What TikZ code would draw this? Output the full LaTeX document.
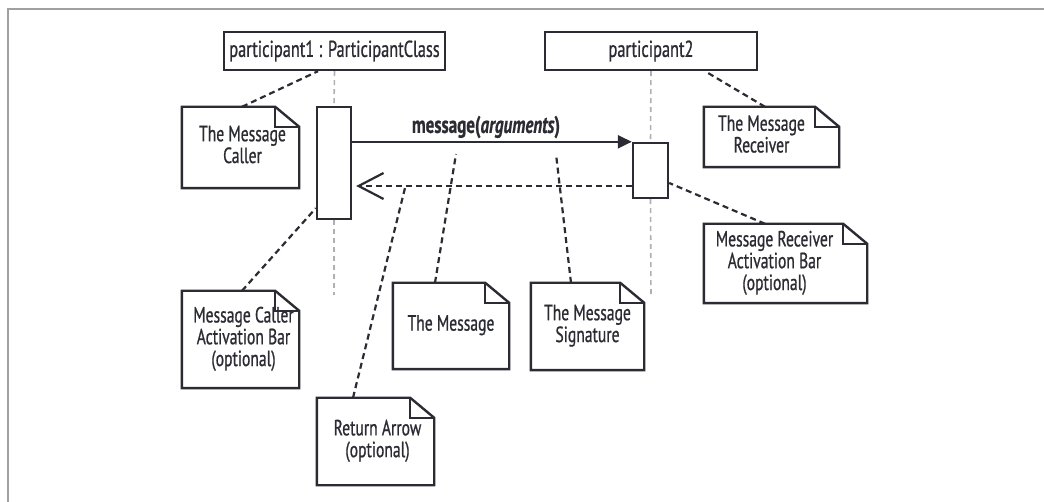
\documentclass[tikz,border=0pt]{standalone}
\usepackage{fontspec}
\setmainfont[FakeStretch=0.71,FakeBold=0.8]{PT Sans}
\usetikzlibrary{arrows.meta}
\definecolor{ink}{HTML}{2B2B33}
\definecolor{frame}{HTML}{A0A0A0}
\definecolor{life}{HTML}{B0B0B0}
\newcommand\notetext[3]{\raisebox{-#2}{\kern#1\begin{tabular}{@{}c@{}}#3\end{tabular}\kern-#1}}
\newcommand\drawnote[1]{%
  \draw[boxline] (#1.south west) -- (#1.north west) -- ([xshift=-24pt]#1.north east)
    -- ([yshift=-20pt]#1.north east) -- (#1.south east) -- cycle;
  \draw[boxline] ([xshift=-24pt]#1.north east) |- ([yshift=-20pt]#1.north east);}
\tikzset{
  boxline/.style={draw=ink, line width=2.4pt, line join=miter},
  partbox/.style={boxline, fill=white, minimum height=38pt, inner sep=0pt, text=ink,
    font=\fontsize{23}{23}\selectfont},
  barbox/.style={boxline, fill=white, inner sep=0pt},
  notebox/.style={inner sep=0pt, text=ink, align=center,
    font=\fontsize{22}{20.5}\selectfont},
  lifeline/.style={draw=life, line width=1.6pt, dash pattern=on 5pt off 4pt},
  connector/.style={draw=ink, line width=2.2pt, dash pattern=on 6pt off 4pt},
}
\begin{document}
\begin{tikzpicture}[x=1pt, y=-1pt]
\useasboundingbox (0,0) rectangle (1044,502);
% frame
\draw[frame, line width=2pt] (8,502) -- (8,9) -- (1044,9);
% participants
\node[partbox, minimum width=221pt] (p1) at (334.5,51) {participant1 : ParticipantClass};
\node[partbox, minimum width=212pt] (p2) at (651,51) {participant2};
% activation bars
\node[barbox, minimum width=34pt, minimum height=112pt] (bar1) at (334,163) {};
\node[barbox, minimum width=35pt, minimum height=55pt] (bar2) at (650.5,170.5) {};
\coordinate (l1end) at (334,295);
\coordinate (l2end) at (651,297);
\draw[lifeline] (p1.south) -- (bar1.north);
\draw[lifeline] (bar1.south) -- (l1end);
\draw[lifeline] (p2.south) -- (bar2.north);
\draw[lifeline] (bar2.south) -- (l2end);
% message
\draw[draw=ink, line width=2.2pt, -{Triangle[length=14pt,width=13pt]}]
  (bar1.east |- bar2.north west) -- (bar2.north west);
\node[text=ink, font=\fontsize{24}{24}\selectfont\bfseries, inner sep=0pt] (msg) at (486,127)
  {message(\textit{arguments})};
% return
\coordinate (r2) at (bar2.west |- 0,186);
\coordinate (r1) at (bar1.east |- 0,186);
\draw[draw=ink, line width=2.2pt, dash pattern=on 6pt off 4pt,
  -{Straight Barb[length=25pt,width=26pt,line width=2.2pt]}] (r2) -- ([xshift=4pt]r1);
% notes
\node[notebox, minimum width=117pt, minimum height=81pt] (n1) at (240.5,147.5) {\notetext{2pt}{6pt}{The Message\\Caller}};
\node[notebox, minimum width=135pt, minimum height=60pt] (n2) at (771.5,137) {\notetext{-10pt}{0pt}{The Message\\Receiver}};
\node[notebox, minimum width=163pt, minimum height=79pt] (n3) at (785.5,263.5) {\notetext{-11pt}{0pt}{Message Receiver\\Activation Bar\\(optional)}};
\node[notebox, minimum width=117pt, minimum height=97pt] (n4) at (240.5,339.5) {\notetext{3pt}{9pt}{Message Caller\\Activation Bar\\(optional)}};
\node[notebox, minimum width=116pt, minimum height=86pt] (n5) at (451,326) {\notetext{0pt}{6pt}{The Message}};
\node[notebox, minimum width=113pt, minimum height=87pt] (n6) at (587.5,326.5) {\notetext{0pt}{5pt}{The Message\\Signature}};
\node[notebox, minimum width=117pt, minimum height=87pt] (n7) at (375.5,441.5) {\notetext{2pt}{6pt}{Return Arrow\\(optional)}};
\foreach \n in {n1,n2,n3,n4,n5,n6,n7} {\drawnote{\n}}
% connector end points
\coordinate (m1) at (456,154);
\coordinate (m2) at (556,154);
\coordinate (rp) at (405,188);
% connectors
\draw[connector] ([xshift=1.5pt]n1.north) -- ([xshift=-16.5pt]p1.south);
\draw[connector] ([xshift=-6.5pt]n2.north) -- ([xshift=54pt]p2.south);
\draw[connector] ([xshift=-20.5pt]n3.north) -- ([yshift=-12.5pt]bar2.east);
\draw[connector] ([xshift=1.5pt]n4.north) -- ([yshift=12pt]bar1.south west);
\draw[connector] ([xshift=-16pt]n5.north) -- (m1);
\draw[connector] ([xshift=-16.5pt]n6.north) -- (m2);
\draw[connector] ([xshift=-22.5pt]n7.north) -- (rp);
\end{tikzpicture}
\end{document}
